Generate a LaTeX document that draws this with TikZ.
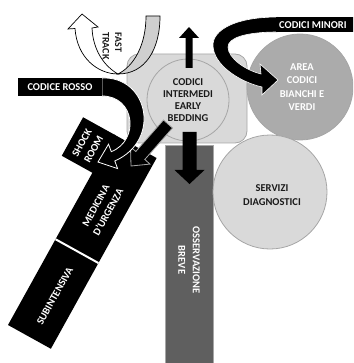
\documentclass[tikz,border=0pt]{standalone}
\usepackage{fontspec}
\setmainfont{Carlito}
\definecolor{lg}{HTML}{D9D9D9}
\definecolor{bd}{HTML}{A6A6A6}
\definecolor{mg}{HTML}{ABABAB}
\definecolor{dg}{HTML}{5F5F5F}
\definecolor{tx}{HTML}{1A1A1A}
\definecolor{fg}{HTML}{CFCFCF}
\begin{document}
\begin{tikzpicture}[x=1pt,y=-1pt,
  txt/.style={font=\bfseries\fontsize{10.5}{12}\selectfont, align=center, inner sep=0pt},
  wtxt/.style={txt, text=white},
  dtxt/.style={txt, text=tx},
  blk/.style={fill=black},
  lbl/.style={fill=black, text=white, font=\bfseries\fontsize{10.5}{12}\selectfont, inner sep=0pt}]
\useasboundingbox (0,0) rectangle (353,363);
\clip (0,0) rectangle (353,363);

% observation bar
\path[fill=dg, draw=bd, line width=0.8] (165,145) rectangle (213,366);
\node (oss) [wtxt, rotate=-90, font=\bfseries\fontsize{10.5}{14.5}\selectfont] at (189,260) {OSSERVAZIONE\\BREVE};

% central rounded box and circle
\path[fill=lg, draw=bd, line width=0.8, rounded corners=12] (127,54) rectangle (247,143);
\node (ci) [circle, fill=lg, draw=bd, line width=0.8, minimum size=82pt, inner sep=0pt] at (188,100) {};
\node (cit) [dtxt] at (188,100) {CODICI\\INTERMEDI\\EARLY\\BEDDING};

% area codici bianchi e verdi
\node (area) [circle, fill=mg, draw=bd, line width=0.8, minimum size=106pt, inner sep=0pt] at (300,87) {};
\node (areat) [wtxt, font=\bfseries\fontsize{10.5}{13.5}\selectfont] at (302,87) {AREA\\CODICI\\BIANCHI E\\VERDI};

% servizi diagnostici
\node (serv) [circle, fill=lg, draw=bd, line width=0.8, minimum size=114pt, inner sep=0pt] at (270,192) {};
\node (servt) [dtxt, font=\bfseries\fontsize{10.5}{14.5}\selectfont] at (272,195) {SERVIZI\\DIAGNOSTICI};

% medicina / subintensiva / shock room (rotated frame)
\begin{scope}[shift={(8,325)}, x={(0.485pt,0.875pt)}, y={(0.875pt,-0.485pt)}]
  \fill[black] (0,0) -- (218,0) -- (218,49) -- (0,49) -- cycle;
  \fill[black] (174,-35) -- (218,-35) -- (218,2) -- (174,2) -- cycle;
  \coordinate (s1) at (98,0);
  \coordinate (s2) at (98,49);
  \draw[white, line width=2] (s1) -- (s2);
  \node (sub) [wtxt, rotate=61] at (48,27) {SUBINTENSIVA};
  \node (med) [wtxt, rotate=61, font=\bfseries\fontsize{10.5}{14}\selectfont] at (147,26) {MEDICINA\\D'URGENZA};
  \node (shock) [wtxt, rotate=61, font=\bfseries\fontsize{10.5}{13.5}\selectfont] at (195,-17) {SHOCK\\ROOM};
\end{scope}

% up arrow
\fill[black] (185.5,68) -- (185.5,38) -- (179,38) -- (189,27) -- (199,38) -- (192.5,38) -- (192.5,68) -- cycle;
% down arrow
\fill[black] (182.5,132) -- (182.5,170) -- (174.5,170) -- (189.5,184) -- (204.5,170) -- (196.5,170) -- (196.5,132) -- cycle;
% diagonal arrow to medicina
\path[fill=black, draw=bd, line width=0.8] (163.5,120) -- (135.8,151.5) -- (130.5,146.9) -- (131,166) -- (150,164.1) -- (144.8,159.5) -- (172.5,128) -- cycle;

% codice rosso arrow
\path[fill=black, draw=white, line width=0.8]
  (102,78) .. controls (148,76) and (162,140) .. (114.8,161)
  -- (117.6,168.6) -- (98,162) -- (108.5,144.2) -- (111.3,151.7)
  .. controls (140,140) and (135,96) .. (102,96) -- cycle;
\node (rosso) [lbl, minimum width=84pt, minimum height=18pt] at (60,87) {CODICE ROSSO};

% codici minori arrow
\path[fill=black, draw=white, line width=0.6]
  (278,17) .. controls (235,17) and (213,30) .. (213,45)
  .. controls (213,65) and (240,82) .. (262,87)
  -- (262,95) -- (278,80) -- (260,64) -- (261,74)
  .. controls (245,70) and (228,58) .. (228,47)
  .. controls (228,38) and (245,32) .. (278,32) -- cycle;
\path[fill=black] (276,17) rectangle (360,32.5);
\node (minori) [text=white, font=\bfseries\fontsize{10.5}{12}\selectfont, inner sep=0pt, anchor=west] at (279,25) {CODICI MINORI};

% fast track arrow
\path[fill=fg, draw=black, line width=0.7]
  (118,74) .. controls (145,74) and (160,50) .. (160,16)
  -- (146,16) .. controls (146,45) and (134,66) .. (118,74) -- cycle;
\path[fill=white, draw=black, line width=0.7]
  (75,28.5) .. controls (77,58) and (98,74) .. (118,74)
  .. controls (104,66) and (93,50) .. (92,28)
  -- (98,27) -- (82,14) -- (68,29) -- cycle;
\node (fast) [dtxt, rotate=-90, align=left, font=\bfseries\fontsize{10}{12.5}\selectfont] at (112,46) {FAST\\TRACK};
\end{tikzpicture}
\end{document}
